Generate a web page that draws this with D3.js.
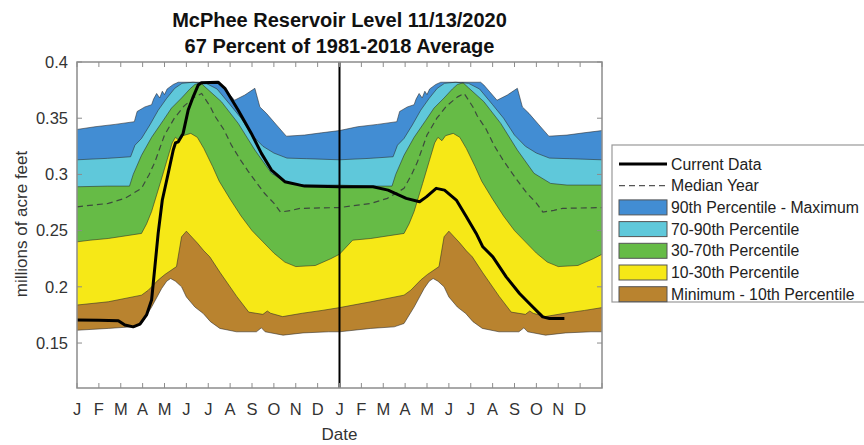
<!DOCTYPE html>
<html>
<head>
<meta charset="utf-8">
<script src="https://cdn.jsdelivr.net/npm/d3@7"></script>
<style>
  body { margin: 0; background: #fff; }
  svg { font-family: "Liberation Sans", Arial, Helvetica, sans-serif; }
</style>
</head>
<body>
<div id="chart"></div>
<script>
// percentile boundaries for one year, [month since Jan 1, millions of acre feet]
const pctMax = [[0,.340],[.82,.3424],[1.74,.3445],[2.62,.3469],[2.75,.356],[3.1,.360],[3.41,.362],[3.5,.367],[3.64,.372],[3.78,.368],[3.9,.374],[4.0,.371],[4.12,.376],[4.4,.380],[4.63,.382],[6.45,.382],[6.6,.3795],[7.2,.366],[7.67,.3706],[8.13,.3766],[8.36,.360],[8.66,.3543],[9.12,.344],[9.57,.334],[10.4,.335],[11.17,.337],[12,.339]];
const pct90 = [[0,.313],[1.4,.3143],[2.45,.3157],[2.65,.326],[2.95,.332],[3.33,.344],[3.71,.357],[4.1,.3677],[4.47,.3766],[4.8,.381],[5.3,.382],[5.9,.381],[6.4,.376],[7.0,.362],[7.5,.350],[8.0,.335],[8.5,.325],[9.0,.319],[9.6,.3145],[10.5,.314],[12,.313]];
const pct70 = [[0,.289],[1.4,.2896],[2.4,.2896],[2.57,.300],[2.95,.317],[3.41,.333],[3.94,.348],[4.32,.359],[4.78,.368],[5.16,.376],[5.39,.380],[5.65,.3815],[5.9,.377],[6.6,.3647],[7.37,.3454],[8.13,.3217],[8.89,.301],[9.65,.292],[10.4,.2905],[12,.2905]];
const pctMedian = [[0,.2712],[1.43,.2742],[2.19,.2787],[2.95,.2876],[3.3,.300],[3.56,.311],[4.0,.335],[4.45,.350],[4.9,.361],[5.4,.369],[5.7,.372],[6.1,.360],[6.3,.352],[6.71,.340],[7.06,.326],[7.47,.313],[7.82,.303],[8.23,.292],[8.58,.283],[9.0,.2745],[9.3,.2665],[9.8,.268],[10.2,.2698],[12,.2705]];
const pct30 = [[0,.240],[0.6,.2415],[1.43,.243],[2.95,.2475],[3.18,.256],[3.41,.267],[3.8,.292],[4.12,.313],[4.35,.328],[4.5,.333],[4.68,.330],[4.85,.3345],[5.2,.3365],[5.5,.333],[5.8,.323],[6.2,.307],[6.5,.294],[7.0,.278],[7.5,.263],[8.0,.250],[8.5,.240],[9.0,.230],[9.5,.222],[10.0,.218],[10.9,.219],[11.6,.225],[12,.229]];
const pct10 = [[0,.1838],[1.43,.1867],[2.95,.1926],[3.26,.197],[3.71,.206],[4.02,.211],[4.55,.218],[4.78,.2445],[5.0,.2495],[5.5,.239],[5.8,.232],[6.07,.2267],[6.55,.2125],[7.3,.1915],[7.85,.1775],[8.5,.1755],[8.7,.1785],[8.85,.1765],[9.4,.1735],[10.3,.1765],[11.2,.179],[12,.1815]];
const pctMin = [[0,.1614],[1.43,.163],[2.5,.1644],[2.95,.1674],[3.41,.182],[3.87,.1985],[4.1,.205],[4.28,.2074],[4.5,.205],[4.78,.200],[5.0,.191],[5.39,.182],[5.77,.1763],[6.1,.169],[6.53,.163],[7.29,.160],[8.2,.160],[8.43,.1635],[8.6,.160],[9.42,.157],[10.33,.159],[11.5,.160],[12,.160]];

// current data, Jan 2019 through Nov 13 2020
const currentData = [[0,.1705],[1.0,.1703],[1.89,.1698],[2.19,.166],[2.57,.1644],[2.88,.1668],[3.18,.175],[3.41,.1883],[3.56,.2178],[3.71,.2475],[3.9,.2772],[4.17,.301],[4.4,.3217],[4.5,.328],[4.63,.329],[4.85,.3365],[5.08,.357],[5.31,.369],[5.54,.3795],[5.69,.3816],[6.45,.382],[6.76,.3766],[7.37,.357],[7.97,.3365],[8.43,.3187],[8.89,.3039],[9.5,.2935],[10.4,.2896],[12,.289],[13.53,.289],[14.22,.286],[15.05,.2787],[15.66,.2757],[15.97,.280],[16.42,.2876],[16.8,.286],[17.34,.2772],[17.8,.2623],[18.25,.2475],[18.55,.2356],[19.01,.2267],[19.62,.2089],[20.23,.1941],[20.68,.1852],[21.29,.1733],[21.6,.1718],[22.28,.1718]];

const monthLabels = ['J','F','M','A','M','J','J','A','S','O','N','D'];
const yTicks = [0.15, 0.2, 0.25, 0.3, 0.35, 0.4];

const bands = [
  {name: '90th Percentile - Maximum', top: pctMax, color: '#428dd3'},
  {name: '70-90th Percentile', top: pct90, color: '#5fc8da'},
  {name: '30-70th Percentile', top: pct70, color: '#66bb46'},
  {name: '10-30th Percentile', top: pct30, color: '#f6e817'},
  {name: 'Minimum - 10th Percentile', top: pct10, color: '#b9832f'}
];

// same percentiles drawn for both years
function twoYears(pts) {
  return pts.concat(pts.filter(d => d[0] > 0).map(d => [d[0] + 12, d[1]]));
}

const W = 864, H = 445;
const plotLeft = 77, plotRight = 602, plotTop = 62, plotBottom = 388;

const svg = d3.select('#chart').append('svg')
  .attr('width', W)
  .attr('height', H);

const x = d3.scaleLinear().domain([0, 24]).range([plotLeft, plotRight]);
const y = d3.scaleLinear().domain([0.11, 0.4]).range([plotBottom, plotTop]);

const plot = svg.append('g');

const fillArea = d3.area()
  .x(d => x(d[0]))
  .y0(plotBottom)
  .y1(d => y(d[1]));
const edge = d3.line()
  .x(d => x(d[0]))
  .y(d => y(d[1]));

// painter's order: each band's top filled down to axis bottom
bands.forEach(b => {
  plot.append('path')
    .attr('d', fillArea(twoYears(b.top)))
    .style('fill', b.color);
});
plot.append('path')
  .attr('d', fillArea(twoYears(pctMin)))
  .style('fill', '#fff');

[pctMax, pct90, pct70, pct30, pct10, pctMin].forEach(p => {
  plot.append('path')
    .attr('d', edge(twoYears(p)))
    .style('fill', 'none')
    .style('stroke', '#2a2a2a')
    .style('stroke-width', 0.8)
    .style('stroke-opacity', 0.7);
});

plot.append('path')
  .attr('d', edge(twoYears(pctMedian)))
  .style('fill', 'none')
  .style('stroke', '#3d4a3d')
  .style('stroke-width', 1.2)
  .style('stroke-dasharray', '6,4');

// new year divider
plot.append('line')
  .attr('x1', x(12)).attr('x2', x(12))
  .attr('y1', plotTop).attr('y2', plotBottom)
  .style('stroke', '#000')
  .style('stroke-width', 2);

plot.append('path')
  .attr('d', edge(currentData))
  .style('fill', 'none')
  .style('stroke', '#000')
  .style('stroke-width', 3)
  .style('stroke-linejoin', 'round');

// axes box with inward ticks
const axisColor = '#8c8c8c';
svg.append('rect')
  .attr('x', plotLeft).attr('y', plotTop)
  .attr('width', plotRight - plotLeft).attr('height', plotBottom - plotTop)
  .style('fill', 'none')
  .style('stroke', axisColor)
  .style('stroke-width', 1.5);

const xt = d3.range(0, 25);
svg.append('g').selectAll('line').data(xt).enter().append('line')
  .attr('x1', d => x(d)).attr('x2', d => x(d))
  .attr('y1', plotTop).attr('y2', plotTop + 5)
  .style('stroke', axisColor);
svg.append('g').selectAll('line').data(xt).enter().append('line')
  .attr('x1', d => x(d)).attr('x2', d => x(d))
  .attr('y1', plotBottom).attr('y2', plotBottom - 5)
  .style('stroke', axisColor);
svg.append('g').selectAll('line').data(yTicks).enter().append('line')
  .attr('x1', plotLeft).attr('x2', plotLeft + 5)
  .attr('y1', d => y(d)).attr('y2', d => y(d))
  .style('stroke', axisColor);
svg.append('g').selectAll('line').data(yTicks).enter().append('line')
  .attr('x1', plotRight).attr('x2', plotRight - 5)
  .attr('y1', d => y(d)).attr('y2', d => y(d))
  .style('stroke', axisColor);

svg.append('g').selectAll('text').data(yTicks).enter().append('text')
  .attr('x', plotLeft - 9)
  .attr('y', d => y(d))
  .attr('dy', '0.35em')
  .attr('text-anchor', 'end')
  .style('font-size', '16.5px')
  .style('fill', '#333')
  .text(d => d3.format('')(d));

svg.append('g').selectAll('text').data(d3.range(24)).enter().append('text')
  .attr('x', d => x(d))
  .attr('y', 415)
  .attr('text-anchor', 'middle')
  .style('font-size', '16.5px')
  .style('fill', '#333')
  .text(d => monthLabels[d % 12]);

svg.append('text')
  .attr('x', x(12)).attr('y', 440)
  .attr('text-anchor', 'middle')
  .style('font-size', '17px')
  .style('fill', '#333')
  .text('Date');

svg.append('text')
  .attr('transform', 'translate(27,224) rotate(-90)')
  .attr('text-anchor', 'middle')
  .style('font-size', '17px')
  .style('fill', '#333')
  .text('millions of acre feet');

const title = svg.append('text')
  .attr('x', x(12))
  .attr('text-anchor', 'middle')
  .style('font-size', '20px')
  .style('font-weight', 'bold')
  .style('fill', '#111');
title.append('tspan').attr('x', x(12)).attr('y', 27).text('McPhee Reservoir Level 11/13/2020');
title.append('tspan').attr('x', x(12)).attr('y', 53).text('67 Percent of 1981-2018 Average');

// legend
const lg = svg.append('g').attr('transform', 'translate(612,145)');
lg.append('rect')
  .attr('x', 0).attr('y', 0)
  .attr('width', 270).attr('height', 157)
  .style('fill', '#fff')
  .style('stroke', '#999')
  .style('stroke-width', 1.2);

const rowY = i => 19 + i * 21.7;
lg.append('line')
  .attr('x1', 7).attr('x2', 55).attr('y1', rowY(0)).attr('y2', rowY(0))
  .style('stroke', '#000').style('stroke-width', 3);
lg.append('line')
  .attr('x1', 7).attr('x2', 55).attr('y1', rowY(1)).attr('y2', rowY(1))
  .style('stroke', '#555').style('stroke-width', 1.2).style('stroke-dasharray', '6,4');
bands.forEach((b, i) => {
  lg.append('rect')
    .attr('x', 7).attr('y', rowY(i + 2) - 7.5)
    .attr('width', 48).attr('height', 15)
    .style('fill', b.color)
    .style('stroke', '#555')
    .style('stroke-width', 1);
});
const legendNames = ['Current Data', 'Median Year'].concat(bands.map(b => b.name));
lg.selectAll('text.lbl').data(legendNames).enter().append('text')
  .attr('class', 'lbl')
  .attr('x', 59)
  .attr('y', (d, i) => rowY(i))
  .attr('dy', '0.35em')
  .style('font-size', '15.8px')
  .style('fill', '#222')
  .text(d => d);
</script>
</body>
</html>
